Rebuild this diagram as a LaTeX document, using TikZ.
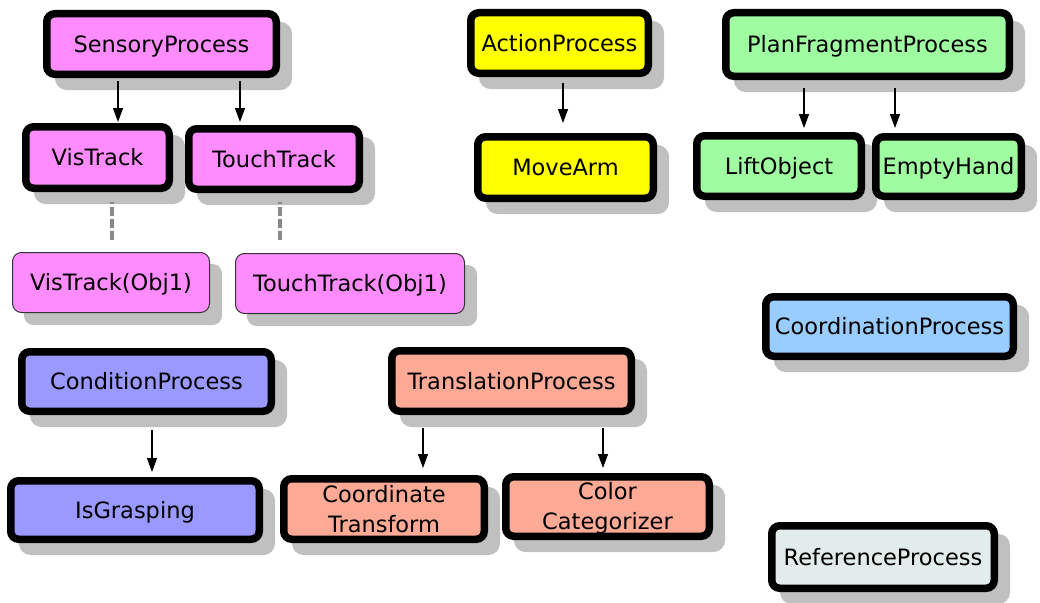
\documentclass[tikz,border=0pt]{standalone}
\usepackage{fontspec}
\setmainfont{DejaVu Sans}
\usetikzlibrary{shadows,arrows.meta}
\definecolor{pinkc}{HTML}{FF8CFF}
\definecolor{yelc}{HTML}{FFFF00}
\definecolor{grnc}{HTML}{A0FCA0}
\definecolor{bluc}{HTML}{99CCFF}
\definecolor{perc}{HTML}{9999FF}
\definecolor{salc}{HTML}{FCAA96}
\definecolor{refc}{HTML}{E2ECEA}
\definecolor{shd}{HTML}{C0C0C0}
\definecolor{dashc}{HTML}{888888}
\definecolor{thinc}{HTML}{333333}
\begin{document}
\begin{tikzpicture}[x=1pt,y=-1pt,
  box/.style={rounded corners=8pt, line width=7.5pt, draw=black, inner sep=0pt,
    font=\fontsize{22.5}{30}\selectfont, text height=16.4pt, text depth=0pt, align=center,
    drop shadow={shadow xshift=12pt,shadow yshift=-12pt,fill=shd,draw=shd,opacity=1}},
  bsz/.style 2 args={minimum width={#1pt-7.5pt},minimum height={#2pt-7.5pt}},
  thinbox/.style={rounded corners=9pt, line width=1pt, draw=thinc, inner sep=0pt,
    font=\fontsize{22.5}{30}\selectfont, text height=16.4pt, text depth=0pt,
    drop shadow={shadow xshift=12pt,shadow yshift=-12pt,fill=shd,draw=shd,opacity=1}},
  tsz/.style 2 args={minimum width={#1pt-1pt},minimum height={#2pt-1pt}},
  twoline/.style={text height=46.4pt, text depth=0pt},
  arr/.style={-{Triangle[length=14pt,width=10pt]}, line width=1.2pt, draw=black},
  dsh/.style={draw=dashc, line width=4pt, dash pattern=on 2pt off 3pt on 9pt off 3pt on 9pt off 3pt on 9pt off 3pt}
]
\fill[white] (0,0) rectangle (1040,602);
\useasboundingbox (0,0) rectangle (1040,602);

% Sensory group
\node[box,fill=pinkc,bsz={237}{68}] (sp) at (161.5,44) {SensoryProcess};
\node[box,fill=pinkc,bsz={151}{69}] (vt) at (97.5,157.5) {VisTrack};
\node[box,fill=pinkc,bsz={178}{68}] (tt) at (274,159) {TouchTrack};
\node[thinbox,fill=pinkc,tsz={198}{61}] (vto) at (111,282.5) {VisTrack(Obj1)};
\node[thinbox,fill=pinkc,tsz={230}{61}] (tto) at (350,283.5) {TouchTrack(Obj1)};

% Action group
\node[box,fill=yelc,bsz={185}{68}] (ap) at (559.5,43) {ActionProcess};
\node[box,fill=yelc,bsz={183}{69}] (ma) at (565.5,167.5) {MoveArm};

% Plan group
\node[box,fill=grnc,bsz={291}{71}] (pf) at (867.5,44.5) {PlanFragmentProcess};
\node[box,fill=grnc,bsz={172}{68}] (lo) at (779,166) {LiftObject};
\node[box,fill=grnc,bsz={153}{67}] (eh) at (948.5,166.5) {EmptyHand};

% Coordination
\node[box,fill=bluc,bsz={255}{67}] (cp) at (889.5,326.5) {CoordinationProcess};

% Condition group
\node[box,fill=perc,bsz={257}{67}] (cd) at (146.5,381.5) {ConditionProcess};
\node[box,fill=perc,bsz={256}{66}] (ig) at (135,510) {IsGrasping};

% Translation group
\node[box,fill=salc,bsz={247}{68}] (tp) at (511.5,381) {TranslationProcess};
\node[box,fill=salc,bsz={208}{68},twoline] (ct) at (384,509) {Coordinate\\Transform};
\node[box,fill=salc,bsz={211}{67},twoline] (cc) at (607.5,506.5) {Color\\Categorizer};

% Reference
\node[box,fill=refc,bsz={230}{70}] (rp) at (883,557) {ReferenceProcess};

% arrow x positions
\coordinate (a1) at (118,0);
\coordinate (a2) at (240,0);
\coordinate (a3) at (563,0);
\coordinate (a4) at (804,0);
\coordinate (a5) at (895,0);
\coordinate (a6) at (152,0);
\coordinate (a7) at (423,0);
\coordinate (a8) at (603,0);
\coordinate (d1) at (112,0);
\coordinate (d2) at (280,0);

\draw[arr,shorten <=3pt,shorten >=1pt] (sp.south -| a1) -- (vt.north -| a1);
\draw[arr,shorten <=3pt,shorten >=3pt] (sp.south -| a2) -- (tt.north -| a2);
\draw[arr,shorten <=6pt,shorten >=10pt] (ap.south -| a3) -- (ma.north -| a3);
\draw[arr,shorten <=8pt,shorten >=4pt] (pf.south -| a4) -- (lo.north -| a4);
\draw[arr,shorten <=8pt,shorten >=5pt] (pf.south -| a5) -- (eh.north -| a5);
\draw[arr,shorten <=15pt,shorten >=5pt] (cd.south -| a6) -- (ig.north -| a6);
\draw[arr,shorten <=13pt,shorten >=7pt] (tp.south -| a7) -- (ct.north -| a7);
\draw[arr,shorten <=13pt,shorten >=5pt] (tp.south -| a8) -- (cc.north -| a8);

\draw[dsh,shorten <=10pt,shorten >=12pt] (vt.south -| d1) -- (vto.north -| d1);
\draw[dsh,shorten <=9pt,shorten >=13pt] (tt.south -| d2) -- (tto.north -| d2);
\end{tikzpicture}
\end{document}
